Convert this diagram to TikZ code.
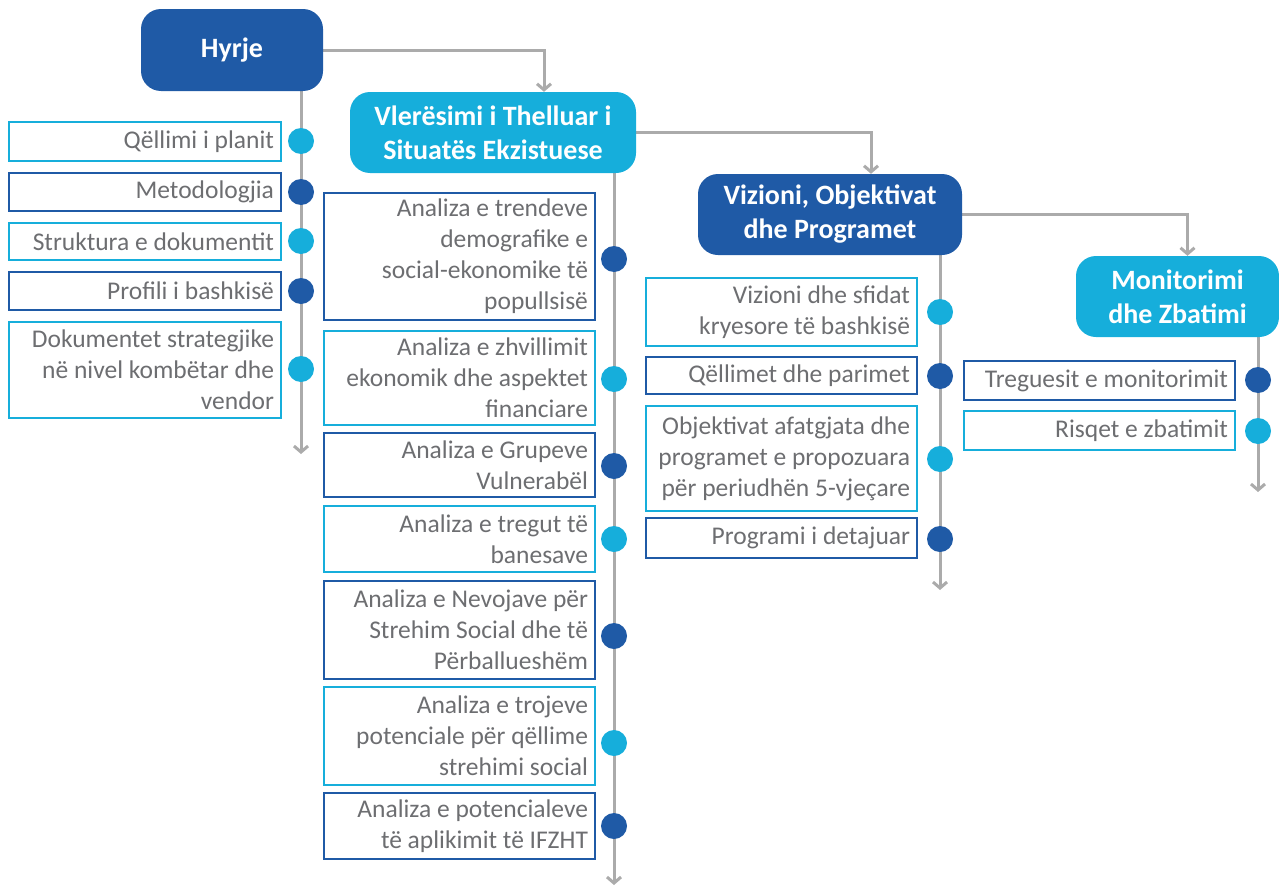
\documentclass[tikz,border=0pt]{standalone}
\usepackage{fontspec}
\setmainfont{Carlito}
\usetikzlibrary{arrows.meta,backgrounds}
\definecolor{dkb}{HTML}{1F5AA6}
\definecolor{ltb}{HTML}{16AEDB}
\definecolor{lgray}{HTML}{ABABAB}
\definecolor{txtg}{HTML}{6D6E71}
\tikzset{
  head/.style={rounded corners=20pt, text=white, font=\bfseries\fontsize{28}{34}\selectfont, align=center, inner sep=0pt},
  headd/.style={head, fill=dkb},
  headl/.style={head, fill=ltb},
  item/.style={draw, line width=2pt, fill=white, text=txtg, font=\fontsize{25.5}{31}\selectfont, align=flush right, inner xsep=0pt, inner ysep=0pt},
  itemd/.style={item, draw=dkb},
  iteml/.style={item, draw=ltb},
  dotd/.style={circle, fill=dkb, minimum size=26pt, inner sep=0pt},
  dotl/.style={circle, fill=ltb, minimum size=26pt, inner sep=0pt},
  conn/.style={draw=lgray, line width=3pt, -{Straight Barb[length=6pt,width=14pt,line width=3pt]}},
}
\newcommand{\bx}[7]{% name style x1 y1 x2 y2 text
  \pgfmathsetmacro{\bxw}{#5-#3}%
  \pgfmathsetmacro{\bxh}{#6-#4}%
  \pgfmathsetmacro{\bxt}{#5-#3-14}%
  \pgfmathsetmacro{\bxcx}{(#3+#5)/2}%
  \pgfmathsetmacro{\bxcy}{(#4+#6)/2}%
  \node[#2, minimum width=\bxw pt, minimum height=\bxh pt, text width=\bxt pt] (#1) at (\bxcx,\bxcy) {#7};}
\begin{document}
\begin{tikzpicture}[x=1pt,y=-1pt]
\useasboundingbox (0,0) rectangle (1279,886);
% headers
\node[headd, minimum width=182pt, minimum height=82pt] (hyrje) at (232,50) {Hyrje};
\node[headl, minimum width=286pt, minimum height=81pt] (vler) at (493,132.5) {Vlerësimi i Thelluar i\\Situatës Ekzistuese};
\node[headd, minimum width=264pt, minimum height=81pt] (viz) at (830,214.5) {Vizioni, Objektivat\\dhe Programet};
\node[headl, minimum width=203pt, minimum height=81pt] (mon) at (1177.5,296.5) {Monitorimi\\dhe Zbatimi};
% column 1
\bx{a1}{iteml}{9}{122}{281}{161}{Qëllimi i planit}
\bx{a2}{itemd}{9}{173}{281}{211}{Metodologjia}
\bx{a3}{iteml}{9}{223}{281}{260}{Struktura e dokumentit}
\bx{a4}{itemd}{9}{272}{281}{310}{Profili i bashkisë}
\bx{a5}{iteml}{9}{322}{281}{418}{Dokumentet strategjike\\në nivel kombëtar dhe\\vendor}
\node[dotl] (da1) at (301,141) {};
\node[dotd] (da2) at (301,192) {};
\node[dotl] (da3) at (301,241) {};
\node[dotd] (da4) at (301,291) {};
\node[dotl] (da5) at (301,369) {};
\coordinate (ea) at (301,454);
% column 2
\bx{b1}{itemd}{324}{193}{595}{320}{Analiza e trendeve\\demografike e\\social-ekonomike të\\popullsisë}
\bx{b2}{iteml}{324}{331}{595}{425}{Analiza e zhvillimit\\ekonomik dhe aspektet\\financiare}
\bx{b3}{itemd}{324}{433}{595}{497}{Analiza e Grupeve\\Vulnerabël}
\bx{b4}{iteml}{324}{506}{595}{572}{Analiza e tregut të\\banesave}
\bx{b5}{itemd}{324}{581}{595}{679}{Analiza e Nevojave për\\Strehim Social dhe të\\Përballueshëm}
\bx{b6}{iteml}{324}{687}{595}{785}{Analiza e trojeve\\potenciale për qëllime\\strehimi social}
\bx{b7}{itemd}{324}{793}{595}{859}{Analiza e potencialeve\\të aplikimit të IFZHT}
\node[dotd] (db1) at (614,259) {};
\node[dotl] (db2) at (614,379) {};
\node[dotd] (db3) at (614,466) {};
\node[dotl] (db4) at (614,539) {};
\node[dotd] (db5) at (614,636) {};
\node[dotl] (db6) at (614,743) {};
\node[dotd] (db7) at (614,826) {};
\coordinate (eb) at (614,885);
% column 3
\bx{c1}{iteml}{646}{278}{917}{346}{Vizioni dhe sfidat\\kryesore të bashkisë}
\bx{c2}{itemd}{646}{357}{917}{394}{Qëllimet dhe parimet}
\bx{c3}{iteml}{646}{406}{917}{511}{Objektivat afatgjata dhe\\programet e propozuara\\për periudhën 5-vjeçare}
\bx{c4}{itemd}{646}{518}{917}{558}{Programi i detajuar}
\node[dotl] (dc1) at (940,312) {};
\node[dotd] (dc2) at (940,376) {};
\node[dotl] (dc3) at (940,459) {};
\node[dotd] (dc4) at (940,539) {};
\coordinate (ec) at (940,590);
% column 4
\bx{d1}{itemd}{964}{361}{1235}{400}{Treguesit e monitorimit}
\bx{d2}{iteml}{964}{411}{1235}{450}{Risqet e zbatimit}
\node[dotd] (dd1) at (1258,380) {};
\node[dotl] (dd2) at (1258,431) {};
\coordinate (ed) at (1258,492);
\begin{scope}[on background layer]
\draw[conn] (hyrje.east) -| ([xshift=51pt]vler.north);
\draw[conn] (vler.east) -| ([xshift=41pt]viz.north);
\draw[conn] (viz.east) -| ([xshift=10pt]mon.north);
\draw[conn] (hyrje.south -| da1) -- (ea);
\draw[conn] (vler.south -| db1) -- (eb);
\draw[conn] (viz.south -| dc1) -- (ec);
\draw[conn] (mon.south -| dd1) -- (ed);
\end{scope}
\end{tikzpicture}
\end{document}
